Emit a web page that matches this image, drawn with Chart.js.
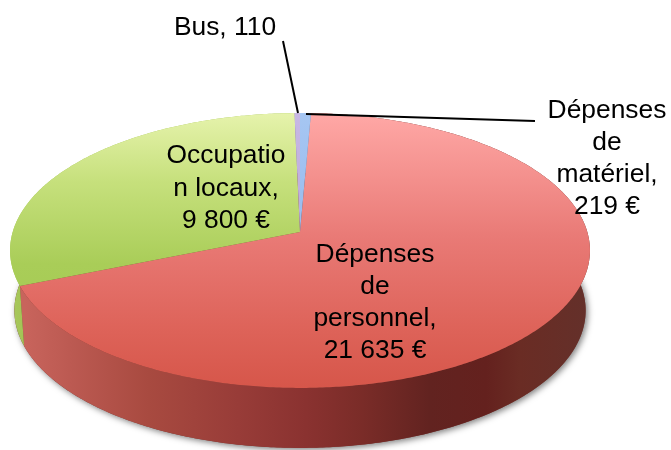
<!DOCTYPE html>
<html><head><meta charset="utf-8">
<style>html,body{margin:0;padding:0;background:#fff}#w{width:671px;height:450px;position:relative}</style>
<script src="https://cdn.jsdelivr.net/npm/chart.js@4"></script>
</head><body><div id="w"><canvas id="c" width="671" height="450"></canvas></div>
<script>
const categories = ["Dépenses de personnel", "Occupation locaux", "Bus", "Dépenses de matériel"];
const values = [21635, 9800, 110, 219];
const labelLines = [
  ["Dépenses", "de", "personnel,", "21 635 €"],
  ["Occupatio", "n locaux,", "9 800 €"],
  ["Bus, 110"],
  ["Dépenses", "de", "matériel,", "219 €"]
];
const labelAnchors = [[375, 255, 32], [226, 156, 32.5], [225, 28, 32], [607, 111, 32]];
const leaders = [null, null, [[283, 41], [298, 113]], [[306, 114], [535, 121]]];
const topStops = [
  [[0, "#ffa8a6"], [0.45, "#e97a76"], [0.8, "#dd6258"], [1, "#d6564a"]],
  [[0, "#e6f3ac"], [0.25, "#c6e07c"], [0.55, "#a9cd58"], [1, "#a0c850"]],
  [[0, "#c8b8e4"], [1, "#a896d0"]],
  [[0, "#a6c6f2"], [1, "#86aee8"]]
];
const sideStops = [
  [[0, "#c8645c"], [0.08, "#bc5a52"], [0.22, "#a84a40"], [0.38, "#983c38"], [0.5, "#8a3230"], [0.6, "#7a2c28"], [0.72, "#622320"], [0.82, "#64211e"], [0.88, "#6a2c24"], [1, "#64302a"]],
  [[0, "#a8c85c"], [1, "#a0c050"]],
  [[0, "#806a9a"], [1, "#806a9a"]],
  [[0, "#5a7aa0"], [1, "#5a7aa0"]]
];
// Perspective of the pie's disc
const XS = 1.318, YS = 0.619, K = 0.1345, DEPTH = 60, BOTTOM_SCALE = 0.985;

function pt(el, ang, lower) {
  const u = Math.cos(ang), v = Math.sin(ang), w = 1 - K * v, R = el.outerRadius;
  let X = R * XS * u / w, Y = R * YS * v / w;
  if (lower) { X *= BOTTOM_SCALE; Y += DEPTH; }
  return [el.x + X, el.y + Y];
}
function arcPts(el, a0, a1, lower) {
  const n = Math.max(2, Math.ceil(Math.abs(a1 - a0) / 0.01)), o = [];
  for (let i = 0; i <= n; i++) o.push(pt(el, a0 + (a1 - a0) * i / n, lower));
  return o;
}
function trace(ctx, pts) {
  ctx.beginPath();
  pts.forEach((p, i) => i ? ctx.lineTo(p[0], p[1]) : ctx.moveTo(p[0], p[1]));
  ctx.closePath();
}
function grad(ctx, x0, y0, x1, y1, stops) {
  const g = ctx.createLinearGradient(x0, y0, x1, y1);
  stops.forEach(s => g.addColorStop(s[0], s[1]));
  return g;
}
const pie3d = {
  id: "pie3d",
  beforeDatasetDraw(chart, args) {
    const ctx = chart.ctx, arcs = chart.getDatasetMeta(args.index).data, e0 = arcs[0];
    ctx.save();
    // soft shadow under the drum
    ctx.save();
    ctx.shadowColor = "rgba(0,0,0,0.5)";
    ctx.shadowBlur = 6; ctx.shadowOffsetX = 2; ctx.shadowOffsetY = 2;
    ctx.fillStyle = "#7a3a34";
    trace(ctx, arcPts(e0, 0, Math.PI * 2, true));
    ctx.fill();
    ctx.restore();
    // side walls
    const L = pt(e0, Math.PI, false)[0], Rt = pt(e0, 0, false)[0];
    arcs.forEach((el, i) => {
      const top = arcPts(el, el.startAngle, el.endAngle, false);
      const bot = arcPts(el, el.startAngle, el.endAngle, true).reverse();
      ctx.fillStyle = i === 1
        ? grad(ctx, L, 0, L + 20, 0, sideStops[i])
        : grad(ctx, L + 12, 0, Rt, 0, sideStops[i]);
      trace(ctx, top.concat(bot));
      ctx.fill();
    });
    // top faces
    const yT = pt(e0, -Math.PI / 2, false)[1], yB = pt(e0, Math.PI / 2, false)[1];
    arcs.forEach((el, i) => {
      const pts = arcPts(el, el.startAngle, el.endAngle, false);
      pts.push([el.x, el.y]);
      ctx.fillStyle = grad(ctx, 0, yT, 0, yB, topStops[i]);
      trace(ctx, pts);
      ctx.fill();
    });
    ctx.restore();
    return false;
  },
  afterDatasetsDraw(chart) {
    const ctx = chart.ctx;
    ctx.save();
    ctx.strokeStyle = "#000"; ctx.lineWidth = 2;
    leaders.forEach(seg => {
      if (!seg) return;
      ctx.beginPath(); ctx.moveTo(seg[0][0], seg[0][1]); ctx.lineTo(seg[1][0], seg[1][1]); ctx.stroke();
    });
    ctx.fillStyle = "#000";
    ctx.font = "26.4px 'Liberation Sans', Arial, sans-serif";
    ctx.textAlign = "center"; ctx.textBaseline = "middle";
    labelLines.forEach((lines, i) => {
      const a = labelAnchors[i];
      lines.forEach((t, j) => ctx.fillText(t, a[0], a[1] + j * a[2]));
    });
    ctx.restore();
  }
};
new Chart(document.getElementById("c"), {
  type: "pie",
  data: { labels: categories, datasets: [{ data: values, borderWidth: 0, backgroundColor: ["#dd6258", "#c2de78", "#c8b8e4", "#a6c6f2"] }] },
  options: {
    responsive: false, animation: false, rotation: 2.48,
    layout: { padding: { left: 0, right: 71, top: 14, bottom: 0 } },
    plugins: { legend: { display: false }, tooltip: { enabled: false } }
  },
  plugins: [pie3d]
});
</script></body></html>
